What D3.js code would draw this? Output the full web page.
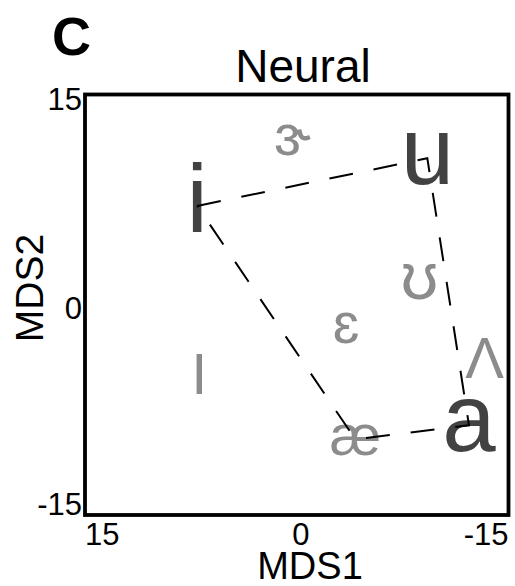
<!DOCTYPE html>
<html>
<head>
<meta charset="utf-8">
<script src="https://cdn.jsdelivr.net/npm/d3@7"></script>
<style>
  body { margin: 0; background: #fff; }
  text { font-family: "Liberation Sans", Arial, sans-serif; }
</style>
</head>
<body>
<div id="chart"></div>
<script>
// vowel symbols and their MDS coordinates
var vowels = ["i", "u", "a", "æ", "ɝ", "ʊ", "Λ", "ɛ", "I"];
var mds1 = [7.05, -9.25, -12.2, -4.15, 0.3, -8.7, -13.3, -3.5, 6.9];
var mds2 = [7.05, 10.45, -8.6, -9.6, 11.8, 1.7, -4.1, -1.6, -5.25];
// quadrilateral drawn through the corner vowels
var outline = ["i", "u", "a", "æ", "i"];
var xTicks = [15, 0, -15];
var yTicks = [15, 0, -15];

var width = 515, height = 586;
var pLeft = 85, pRight = 508.5, pTop = 94.5, pBottom = 515;

var svg = d3.select("#chart").append("svg")
  .attr("width", width)
  .attr("height", height);

var x = d3.scaleLinear().domain([15, -15]).range([pLeft, pRight]);
var y = d3.scaleLinear().domain([15, -15]).range([pTop, pBottom]);

var points = vowels.map(function(v, i) {
  return {label: v, x: mds1[i], y: mds2[i]};
});

// point vowels are big and dark, the rest light grey
var big = ["i", "u", "a"];
function fontSize(d) {
  if (big.indexOf(d.label) != -1) return 96;
  if (d.label == "ʊ") return 66;
  return 58;
}

/* labels */
svg.append("text")
  .attr("x", 52).attr("y", 55)
  .attr("font-size", 54).attr("font-weight", "bold")
  .text("C");

svg.append("text")
  .attr("x", 303).attr("y", 82)
  .attr("font-size", 46).attr("text-anchor", "middle")
  .text("Neural");

/* symbols */
svg.append("g").selectAll("text")
  .data(points).enter()
  .append("text")
  .attr("x", d => x(d.x))
  .attr("y", d => y(d.y))
  .attr("dy", "0.27em")
  .attr("text-anchor", "middle")
  .attr("font-size", fontSize)
  .attr("fill", d => big.indexOf(d.label) != -1 ? "#424242" : "#8c8c8c")
  .text(d => d.label);

/* dashed outline */
var line = d3.line()
  .x(d => x(d.x))
  .y(d => y(d.y));

svg.append("path")
  .attr("d", line(outline.map(v => points.find(p => p.label == v))))
  .attr("fill", "none")
  .attr("stroke", "#000")
  .attr("stroke-width", 2)
  .attr("stroke-dasharray", "24,21");

/* frame */
svg.append("rect")
  .attr("x", pLeft).attr("y", pTop)
  .attr("width", pRight - pLeft).attr("height", pBottom - pTop)
  .attr("fill", "none")
  .attr("stroke", "#000")
  .attr("stroke-width", 3.8);

/* ticks */
var anchors = ["start", "middle", "end"];
svg.append("g").selectAll("text")
  .data(xTicks).enter()
  .append("text")
  .attr("x", d => x(d))
  .attr("dx", (d, i) => i == 1 ? 4 : 0)
  .attr("y", 545)
  .attr("font-size", 31)
  .attr("text-anchor", (d, i) => anchors[i])
  .text(d => d);

svg.append("g").selectAll("text")
  .data(yTicks).enter()
  .append("text")
  .attr("x", 82)
  .attr("y", (d, i) => i == 0 ? 110 : i == 1 ? y(d) + 14 : 515)
  .attr("font-size", 31)
  .attr("text-anchor", "end")
  .text(d => d);

svg.append("text")
  .attr("x", 310).attr("y", 579)
  .attr("font-size", 38).attr("text-anchor", "middle")
  .text("MDS1");

svg.append("text")
  .attr("transform", "translate(43,288) rotate(-90)")
  .attr("font-size", 39).attr("text-anchor", "middle")
  .text("MDS2");
</script>
</body>
</html>
